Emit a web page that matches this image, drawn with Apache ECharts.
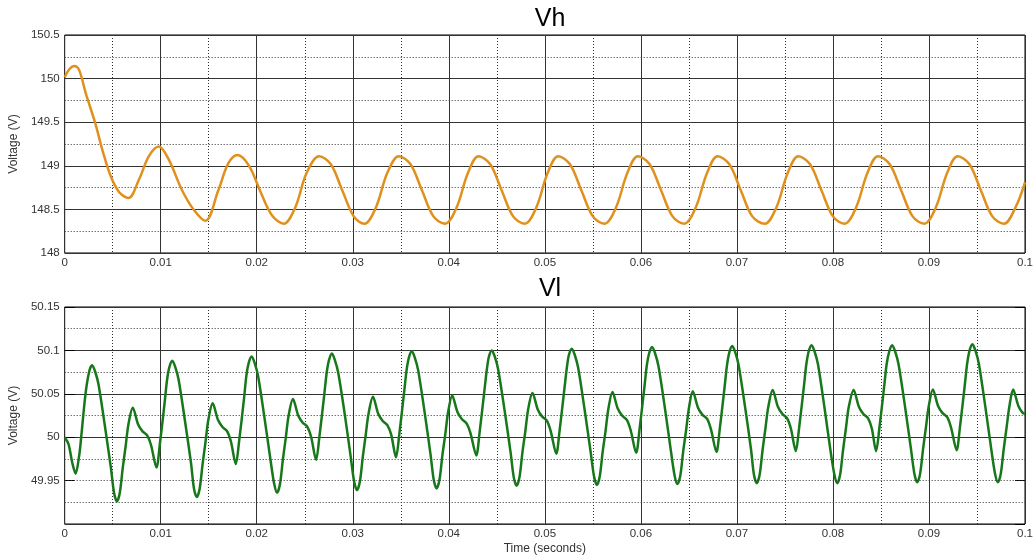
<!DOCTYPE html>
<html>
<head>
<meta charset="utf-8">
<script src="https://cdn.jsdelivr.net/npm/echarts@6/dist/echarts.min.js"></script>
<style>
html,body{margin:0;padding:0;background:#fff;}
#chart{width:1036px;height:558px;}
</style>
</head>
<body>
<div id="chart"></div>
<script>
// ---- Data ----
var titleTop = 'Vh';
var titleBottom = 'Vl';
var yAxisName = 'Voltage (V)';
var xAxisName = 'Time (seconds)';

// Vh (top plot): time (s) and voltage (V)
var vhT = [0, 0.0005, 0.001, 0.0015, 0.0022, 0.00318, 0.00393, 0.0048, 0.00566, 0.00663,
  0.00773, 0.00877, 0.0098, 0.01084, 0.01222, 0.01342, 0.01465, 0.016, 0.01705, 0.018,
  0.0192, 0.0204, 0.0216, 0.0228, 0.0240, 0.0252,
  0.0265, 0.0277, 0.0289, 0.0301, 0.0312, 0.0324, 0.0336,
  0.0348, 0.0360, 0.0372, 0.0384, 0.0396, 0.0408, 0.0420,
  0.0431, 0.0443, 0.0455, 0.0467, 0.0479, 0.0491, 0.0503,
  0.0514, 0.0526, 0.0538, 0.0550, 0.0562, 0.0574, 0.0586,
  0.0597, 0.0609, 0.0621, 0.0633, 0.0645, 0.0657, 0.0669,
  0.0680, 0.0692, 0.0704, 0.0716, 0.0729, 0.0741, 0.0753,
  0.0764, 0.0776, 0.0788, 0.0800, 0.0812, 0.0824, 0.0836,
  0.0847, 0.0859, 0.0871, 0.0883, 0.0895, 0.0907, 0.0919,
  0.0930, 0.0942, 0.0954, 0.0966, 0.0978, 0.0990, 0.1000];
var vhV = [150.015, 150.11, 150.145, 150.10, 149.83, 149.49, 149.18, 148.88, 148.70, 148.63,
  148.84, 149.11, 149.22, 149.07, 148.72, 148.50, 148.37, 148.72, 149.03, 149.125,
  149.00, 148.70, 148.43, 148.335, 148.52, 148.92,
  149.11, 149.02, 148.72, 148.42, 148.335, 148.52, 148.92,
  149.11, 149.02, 148.72, 148.42, 148.335, 148.52, 148.92,
  149.11, 149.02, 148.72, 148.42, 148.335, 148.52, 148.92,
  149.11, 149.02, 148.72, 148.42, 148.335, 148.52, 148.92,
  149.11, 149.02, 148.72, 148.42, 148.335, 148.52, 148.92,
  149.11, 149.02, 148.72, 148.42, 148.335, 148.52, 148.92,
  149.11, 149.02, 148.72, 148.42, 148.335, 148.52, 148.92,
  149.11, 149.02, 148.72, 148.42, 148.335, 148.52, 148.92,
  149.11, 149.02, 148.72, 148.42, 148.335, 148.52, 148.81];

// Vl (bottom plot): time (s) and voltage (V), one line per ripple cycle
var vlT = [0, 0.0004, 0.0008, 0.00114, 0.0015, 0.00172, 0.00217,
  0.00256, 0.00286, 0.00316, 0.00352, 0.0042, 0.00482, 0.00514, 0.00544, 0.00574, 0.00604, 0.00634, 0.00664, 0.00709, 0.00764, 0.00809, 0.00859, 0.00899, 0.00956, 0.0099, 0.01042, 0.01066,
  0.01091, 0.01121, 0.01151, 0.01187, 0.01255, 0.01317, 0.01346, 0.01376, 0.01406, 0.01436, 0.01466, 0.01496, 0.01541, 0.01596, 0.01641, 0.01691, 0.01731, 0.01782, 0.01816, 0.01868, 0.01892,
  0.01917, 0.01947, 0.01977, 0.02013, 0.02081, 0.02143, 0.02182, 0.02212, 0.02242, 0.02272, 0.02302, 0.02332, 0.02377, 0.02432, 0.02477, 0.02527, 0.02567, 0.02618, 0.02652, 0.02704, 0.02728,
  0.02753, 0.02783, 0.02813, 0.02849, 0.02917, 0.02979, 0.03014, 0.03044, 0.03074, 0.03104, 0.03134, 0.03164, 0.0321, 0.03265, 0.0331, 0.0336, 0.034, 0.0345, 0.03484, 0.03536, 0.0356,
  0.03585, 0.03615, 0.03645, 0.03681, 0.03749, 0.03811, 0.03843, 0.03873, 0.03903, 0.03933, 0.03963, 0.03993, 0.04035, 0.0409, 0.04135, 0.04185, 0.04225, 0.04286, 0.0432, 0.04372, 0.04396,
  0.04418, 0.04448, 0.04478, 0.04514, 0.04582, 0.04644, 0.04676, 0.04706, 0.04736, 0.04766, 0.04796, 0.04826, 0.04871, 0.04926, 0.04971, 0.05021, 0.05061, 0.05119, 0.05153, 0.05205, 0.05229,
  0.05251, 0.05281, 0.05311, 0.05347, 0.05415, 0.05477, 0.05512, 0.05542, 0.05572, 0.05602, 0.05632, 0.05662, 0.05704, 0.05759, 0.05804, 0.05854, 0.05894, 0.05951, 0.05985, 0.06037, 0.06061,
  0.06087, 0.06117, 0.06147, 0.06183, 0.06251, 0.06313, 0.06351, 0.06381, 0.06411, 0.06441, 0.06471, 0.06501, 0.0654, 0.06595, 0.0664, 0.0669, 0.0673, 0.06787, 0.06821, 0.06873, 0.06897,
  0.06922, 0.06952, 0.06982, 0.07018, 0.07086, 0.07148, 0.07177, 0.07207, 0.07237, 0.07267, 0.07297, 0.07327, 0.07372, 0.07427, 0.07472, 0.07522, 0.07562, 0.07613, 0.07647, 0.07699, 0.07723,
  0.07748, 0.07778, 0.07808, 0.07844, 0.07912, 0.07974, 0.08015, 0.08045, 0.08075, 0.08105, 0.08135, 0.08165, 0.08215, 0.0827, 0.08315, 0.08365, 0.08405, 0.08449, 0.08483, 0.08535, 0.08559,
  0.08587, 0.08617, 0.08647, 0.08683, 0.08751, 0.08813, 0.08848, 0.08878, 0.08908, 0.08938, 0.08968, 0.08998, 0.0904, 0.09095, 0.0914, 0.0919, 0.0923, 0.09288, 0.09322, 0.09374, 0.09398,
  0.09423, 0.09453, 0.09483, 0.09519, 0.09587, 0.09649, 0.09688, 0.09718, 0.09748, 0.09778, 0.09808, 0.09838, 0.09876, 0.09931, 0.09976, 0.1];
var vlV = [50.000, 49.992, 49.970, 49.958, 49.978, 50.000, 50.050,
  50.076, 50.083, 50.076, 50.061, 50.012, 49.964, 49.936, 49.926, 49.936, 49.964, 49.989, 50.015, 50.034, 50.015, 50.007, 50.002, 49.991, 49.965, 49.991, 50.041, 50.066,
  50.081, 50.088, 50.081, 50.066, 50.017, 49.969, 49.941, 49.931, 49.941, 49.969, 49.994, 50.020, 50.039, 50.020, 50.012, 50.007, 49.995, 49.969, 49.995, 50.045, 50.071,
  50.086, 50.093, 50.086, 50.071, 50.022, 49.974, 49.946, 49.936, 49.946, 49.974, 49.999, 50.025, 50.044, 50.025, 50.017, 50.012, 50.000, 49.974, 50.000, 50.050, 50.074,
  50.089, 50.0965, 50.089, 50.074, 50.026, 49.977, 49.949, 49.939, 49.949, 49.977, 50.002, 50.027, 50.0465, 50.027, 50.019, 50.014, 50.003, 49.977, 50.003, 50.053, 50.077,
  50.092, 50.099, 50.092, 50.077, 50.028, 49.979, 49.951, 49.941, 49.951, 49.979, 50.003, 50.029, 50.048, 50.029, 50.021, 50.016, 50.005, 49.979, 50.005, 50.055, 50.078,
  50.093, 50.100, 50.093, 50.078, 50.030, 49.982, 49.954, 49.944, 49.954, 49.982, 50.006, 50.032, 50.051, 50.032, 50.024, 50.019, 50.007, 49.981, 50.007, 50.057, 50.080,
  50.095, 50.102, 50.095, 50.080, 50.031, 49.983, 49.955, 49.945, 49.955, 49.983, 50.007, 50.033, 50.052, 50.033, 50.025, 50.020, 50.008, 49.982, 50.008, 50.058, 50.082,
  50.097, 50.104, 50.097, 50.082, 50.033, 49.984, 49.956, 49.946, 49.956, 49.984, 50.008, 50.034, 50.053, 50.034, 50.026, 50.021, 50.009, 49.983, 50.009, 50.059, 50.083,
  50.098, 50.105, 50.098, 50.083, 50.034, 49.985, 49.957, 49.947, 49.957, 49.985, 50.010, 50.035, 50.0545, 50.035, 50.027, 50.022, 50.010, 49.984, 50.010, 50.060, 50.084,
  50.099, 50.106, 50.099, 50.084, 50.034, 49.985, 49.957, 49.947, 49.957, 49.985, 50.010, 50.035, 50.0545, 50.035, 50.027, 50.022, 50.010, 49.984, 50.010, 50.060, 50.084,
  50.099, 50.106, 50.099, 50.084, 50.035, 49.986, 49.958, 49.948, 49.958, 49.986, 50.011, 50.036, 50.055, 50.036, 50.028, 50.023, 50.011, 49.985, 50.011, 50.061, 50.085,
  50.100, 50.107, 50.100, 50.085, 50.035, 49.986, 49.958, 49.948, 49.958, 49.986, 50.011, 50.036, 50.055, 50.036, 50.028, 50.027];

// Axis ranges / ticks
var xMin = 0, xMax = 0.1, xStep = 0.01;
var vhMin = 148, vhMax = 150.5, vhStep = 0.5;
var vlMin = 49.9, vlMax = 50.15, vlStep = 0.05;
var vlDottedMajor = [49.95];

// ---- Build ----
function pairs(t, v) { var out = []; for (var i = 0; i < t.length; i++) out.push([t[i], v[i]]); return out; }

var FONT = 'Liberation Sans, Arial, sans-serif';
var solid = '#333';
var dotStyle = { color: '#333', width: 1, type: [1, 2] };

function xAxisCfg(gridIndex, showName) {
  return {
    type: 'value', gridIndex: gridIndex, min: xMin, max: xMax, interval: xStep,
    axisLine: { show: false }, axisTick: { show: false },
    axisLabel: { color: '#333', fontSize: 11.5, fontFamily: FONT, margin: 4,
      formatter: function (v) { return String(+v.toFixed(4)); } },
    splitLine: { show: true, lineStyle: { color: solid, width: 1 } },
    minorTick: { show: false, splitNumber: 2 },
    minorSplitLine: { show: true, lineStyle: dotStyle },
    name: showName ? xAxisName : '', nameLocation: 'middle', nameGap: 19,
    nameTextStyle: { color: '#333', fontSize: 12, fontFamily: FONT }
  };
}

var option = {
  animation: false,
  backgroundColor: '#fff',
  title: [
    { text: titleTop, left: 545, textAlign: 'center', top: 2,
      textStyle: { fontSize: 25, fontWeight: 'normal', color: '#000', fontFamily: FONT } },
    { text: titleBottom, left: 545, textAlign: 'center', top: 272,
      textStyle: { fontSize: 25, fontWeight: 'normal', color: '#000', fontFamily: FONT } }
  ],
  grid: [
    { left: 62, top: 35, width: 966, height: 218, show: true, borderColor: '#000', borderWidth: 1, backgroundColor: '#fff' },
    { left: 60, top: 307, width: 968, height: 217, show: true, borderColor: '#000', borderWidth: 1, backgroundColor: '#fff' }
  ],
  xAxis: [xAxisCfg(0, false), xAxisCfg(1, true)],
  yAxis: [
    {
      type: 'value', gridIndex: 0, min: vhMin, max: vhMax, interval: vhStep,
      axisLine: { show: false }, axisTick: { show: false },
      axisLabel: { color: '#333', fontSize: 11.5, fontFamily: FONT, margin: 5 },
      splitLine: { show: true, lineStyle: { color: solid, width: 1 } },
      minorTick: { show: false, splitNumber: 2 },
      minorSplitLine: { show: true, lineStyle: dotStyle },
      name: yAxisName, nameLocation: 'middle', nameGap: 40, nameRotate: 90,
      nameTextStyle: { color: '#333', fontSize: 12, fontFamily: FONT }
    },
    {
      type: 'value', gridIndex: 1, min: vlMin, max: vlMax, interval: vlStep,
      axisLine: { show: false },
      axisTick: { show: true, inside: true, length: 10, lineStyle: { color: '#000' } },
      axisLabel: { color: '#333', fontSize: 11.5, fontFamily: FONT, margin: 5, showMinLabel: false,
        formatter: function (v) { return String(+v.toFixed(4)); } },
      splitLine: { show: true, lineStyle: { color: [solid, 'rgba(0,0,0,0)', solid, solid, solid, solid], width: 1 } },
      minorTick: { show: false, splitNumber: 2 },
      minorSplitLine: { show: true, lineStyle: dotStyle },
      name: yAxisName, nameLocation: 'middle', nameGap: 40, nameRotate: 90,
      nameTextStyle: { color: '#333', fontSize: 12, fontFamily: FONT }
    },
    {
      type: 'value', gridIndex: 1, position: 'right', min: vlMin, max: vlMax, interval: vlStep,
      axisLine: { show: false },
      axisTick: { show: true, inside: true, length: 10, lineStyle: { color: '#000' } },
      axisLabel: { show: false }, splitLine: { show: false }
    }
  ],
  series: [
    {
      type: 'line', xAxisIndex: 0, yAxisIndex: 0, data: pairs(vhT, vhV),
      showSymbol: false, symbol: 'none', smooth: 0.35, silent: true,
      lineStyle: { color: '#E0901C', width: 2.5 }
    },
    {
      type: 'line', xAxisIndex: 1, yAxisIndex: 1, data: pairs(vlT, vlV),
      showSymbol: false, symbol: 'none', smooth: 0.3, silent: true,
      lineStyle: { color: '#16781A', width: 2.5 },
      markLine: {
        silent: true, symbol: 'none', label: { show: false },
        lineStyle: dotStyle,
        data: vlDottedMajor.map(function (y) { return { yAxis: y }; })
      }
    }
  ]
};

var chart = echarts.init(document.getElementById('chart'), null, { renderer: 'canvas' });
chart.setOption(option);
</script>
</body>
</html>
